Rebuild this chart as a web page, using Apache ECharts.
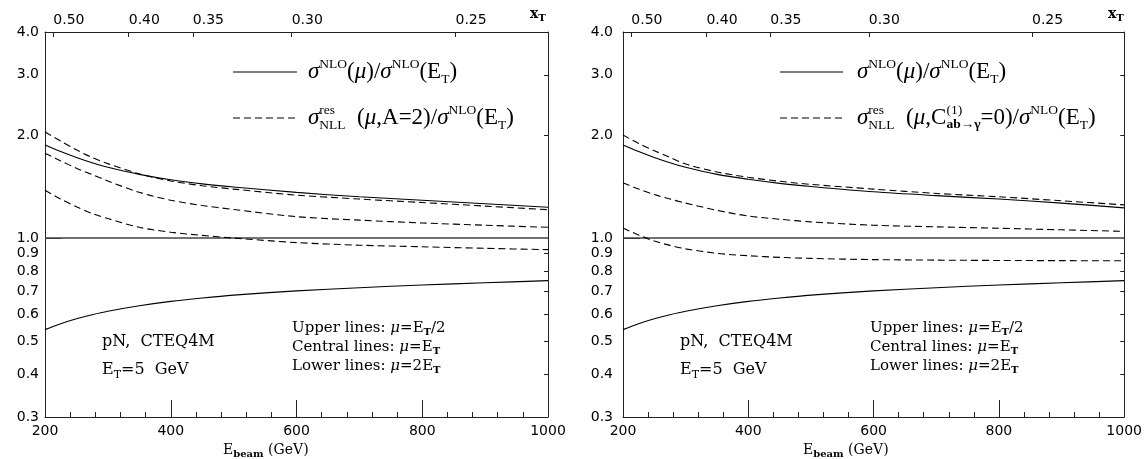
<!DOCTYPE html>
<html><head><meta charset="utf-8">
<script src="https://cdn.jsdelivr.net/npm/echarts@6/dist/echarts.min.js"></script>
<style>html,body{margin:0;padding:0;background:#fff}#c{width:1145px;height:459px}</style>
</head><body><div id="c"></div>
<script>
// ---------------- data ----------------
const energies = [200,225,250,275,300,350,400,450,500,600,700,800,900,1000];

// left panel (A=2)
const L_nloUpper   = [1.87,1.79,1.72,1.66,1.61,1.535,1.48,1.44,1.41,1.36,1.32,1.29,1.26,1.23];
const L_nloCentral = [1,1,1,1,1,1,1,1,1,1,1,1,1,1];
const L_nloLower   = [0.540,0.562,0.581,0.597,0.611,0.634,0.653,0.668,0.681,0.701,0.716,0.729,0.740,0.751];
const L_resUpper   = [2.04,1.92,1.81,1.72,1.65,1.54,1.468,1.422,1.39,1.335,1.30,1.27,1.24,1.21];
const L_resCentral = [1.77,1.68,1.60,1.532,1.468,1.36,1.29,1.245,1.212,1.155,1.128,1.107,1.09,1.075];
const L_resLower   = [1.38,1.30,1.235,1.18,1.14,1.075,1.04,1.018,1.0,0.97,0.953,0.943,0.933,0.925];

// right panel (C=0)
const R_nloUpper   = [1.87,1.79,1.72,1.66,1.61,1.535,1.485,1.445,1.415,1.365,1.33,1.30,1.265,1.225];
const R_nloCentral = [1,1,1,1,1,1,1,1,1,1,1,1,1,1];
const R_nloLower   = [0.540,0.562,0.581,0.597,0.611,0.634,0.653,0.668,0.681,0.701,0.716,0.729,0.740,0.751];
const R_resUpper   = [2.0,1.89,1.80,1.72,1.645,1.56,1.505,1.465,1.435,1.39,1.35,1.32,1.285,1.25];
const R_resCentral = [1.45,1.39,1.34,1.30,1.265,1.205,1.16,1.135,1.115,1.09,1.078,1.068,1.057,1.046];
const R_resLower   = [1.07,1.02,0.98,0.952,0.93,0.902,0.888,0.878,0.872,0.865,0.862,0.860,0.859,0.858];

// tick labels
const yTickValues = [0.3,0.4,0.5,0.6,0.7,0.8,0.9,1.0,2.0,3.0,4.0];
const yMinorTicks = [0.4,0.5,0.6,0.7,0.8,0.9,2.0,3.0];
const xTTicks = [0.50,0.40,0.35,0.30,0.25];
const xTLabels = ['0.50','0.40','0.35','0.30','0.25'];
const ET = 5, mProton = 0.938;

// ---------------- helpers ----------------
const lg = v => Math.log10(v);
// x_T = 2 E_T / sqrt(2 m_p E_beam)  ->  E_beam
const xTPos = xTTicks.map(x => Math.pow(2*ET/x, 2) / (2*mProton));
function xTLabel(v){
  for (let i=0;i<xTPos.length;i++) if (Math.abs(xTPos[i]-v) < 1e-6) return xTLabels[i];
  return '';
}
const pairs = arr => energies.map((e,i)=>[e, lg(arr[i])]);

const AX = '#222';
const SANS = 'DejaVu Sans';
const SERIF = 'Liberation Serif';
const SERIF2 = 'DejaVu Serif';
const TF = 14;

function bottomX(g){ return {gridIndex:g,type:'value',min:200,max:1000,interval:200,position:'bottom',
  axisLine:{show:true,onZero:false,lineStyle:{color:AX,width:1}},
  axisTick:{show:true,inside:true,length:17,lineStyle:{color:AX,width:1}},
  minorTick:{show:true,splitNumber:5,length:5,lineStyle:{color:AX,width:1}},
  axisLabel:{formatter:v=>String(v),fontFamily:SANS,fontSize:TF,color:'#000',margin:7},
  splitLine:{show:false},minorSplitLine:{show:false}};}
function topX(g){ return {gridIndex:g,type:'value',min:200,max:1000,position:'top',
  axisLine:{show:true,onZero:false,lineStyle:{color:AX,width:1}},
  axisTick:{show:true,inside:true,length:5,customValues:xTPos,lineStyle:{color:AX,width:1}},
  axisLabel:{customValues:xTPos,formatter:v=>xTLabel(v),align:'left',fontFamily:SANS,fontSize:TF,color:'#000',margin:5},
  splitLine:{show:false}};}
function leftY(g,margin){ return {gridIndex:g,type:'value',min:lg(0.3),max:lg(4),position:'left',
  axisLine:{show:true,onZero:false,lineStyle:{color:AX,width:1}},
  axisTick:{show:true,inside:true,length:17,customValues:[0],lineStyle:{color:AX,width:1}},
  axisLabel:{customValues:yTickValues.map(lg),formatter:v=>Math.pow(10,v).toFixed(1),fontFamily:SANS,fontSize:TF,color:'#000',margin:margin},
  splitLine:{show:false}};}
function rightY(g){ return {gridIndex:g,type:'value',min:lg(0.3),max:lg(4),position:'right',
  axisLine:{show:true,onZero:false,lineStyle:{color:AX,width:1}},
  axisTick:{show:true,inside:true,length:4,customValues:yMinorTicks.map(lg),lineStyle:{color:AX,width:1}},
  axisLabel:{show:false},splitLine:{show:false}};}

function line(g, arr, dashed, color, width){
  return {type:'line',xAxisIndex:2*g,yAxisIndex:2*g,data:pairs(arr),showSymbol:false,symbol:'none',
    smooth:0.3,silent:true,
    lineStyle:{color:color||'#000',width:width||1.1,type:dashed?[7,4]:'solid'}};
}

// text layout helpers
const cv = document.createElement('canvas').getContext('2d');
function meas(s,size,fam,it,b){ cv.font=(it?'italic ':'')+(b?'bold ':'')+size+'px '+fam; return cv.measureText(s).width; }
function txt(x,y,s,size,fam,it,b){ return {type:'text',x:x,y:y,silent:true,z:100,
  style:{text:s,fontSize:size,fontFamily:fam,fontStyle:it?'italic':'normal',fontWeight:b?'bold':'normal',fill:'#000',align:'left',verticalAlign:'middle'}}; }
function mathText(x,y,tokens,o){
  const out=[]; let cx=x;
  for (const t of tokens){
    if (t.stack){
      const a=t.stack[0], b=t.stack[1];
      const wa=meas(a,o.small,o.fam,false,t.ba), wb=meas(b,o.small,o.fam,false,t.bb);
      out.push(txt(cx,y+o.supDy,a,o.small,o.fam,false,t.ba));
      out.push(txt(cx,y+o.subDy,b,o.small,o.fam,false,t.bb));
      cx += Math.max(wa,wb);
    } else {
      const size=(t.sup||t.sub)?o.small:o.size;
      const dy=t.sup?o.supDy:(t.sub?o.subDy:0);
      out.push(txt(cx,y+dy,t.s,size,o.fam,t.it,t.b));
      cx += meas(t.s,size,o.fam,t.it,t.b);
    }
  }
  return out;
}
function hline(x1,x2,y,dashed){ return {type:'line',silent:true,shape:{x1:x1,y1:y,x2:x2,y2:y},
  style:{stroke:'#000',lineWidth:1.1,lineDash:dashed?[7,4]:null}}; }

const LEG = {fam:SERIF,size:23,small:13.5,supDy:-8,subDy:7};
const ANN = {fam:SERIF2,size:16,small:11,supDy:-6,subDy:5};
const ANS = {fam:SERIF2,size:15,small:10,supDy:-5,subDy:4};
const AXN = {fam:SERIF2,size:14,small:10,supDy:-5,subDy:4};

const leg1 = [{s:'σ',it:1},{s:'NLO',sup:1},{s:'('},{s:'μ',it:1},{s:')/'},{s:'σ',it:1},{s:'NLO',sup:1},{s:'(E'},{s:'T',sub:1},{s:')'}];
const leg2L = [{s:'σ',it:1},{stack:['res','NLL']},{s:'  ('},{s:'μ',it:1},{s:',A=2)/'},{s:'σ',it:1},{s:'NLO',sup:1},{s:'(E'},{s:'T',sub:1},{s:')'}];
const leg2R = [{s:'σ',it:1},{stack:['res','NLL']},{s:'  ('},{s:'μ',it:1},{s:',C'},{stack:['(1)','ab→γ'],bb:1},{s:'=0)/'},{s:'σ',it:1},{s:'NLO',sup:1},{s:'(E'},{s:'T',sub:1},{s:')'}];
const ann1 = [{s:'pN,  CTEQ4M'}];
const ann2 = [{s:'E'},{s:'T',sub:1},{s:'=5  GeV'}];
const up = [{s:'Upper lines: '},{s:'μ',it:1},{s:'=E'},{s:'T',sub:1,b:1},{s:'/2'}];
const ce = [{s:'Central lines: '},{s:'μ',it:1},{s:'=E'},{s:'T',sub:1,b:1}];
const lo = [{s:'Lower lines: '},{s:'μ',it:1},{s:'=2E'},{s:'T',sub:1,b:1}];
const xname = [{s:'E'},{s:'beam',sub:1,b:1},{s:' (GeV)'}];
const xtname = [{s:'x',b:1},{s:'T',sub:1,b:1}];

function panelGraphics(legX, sampleX1, sampleX2, leg2, annX, linesX, xnameX, xtX){
  let g = [];
  g.push(hline(sampleX1,sampleX2,72,false));
  g.push(hline(sampleX1,sampleX2,118,true));
  g = g.concat(mathText(legX,72,leg1,LEG));
  g = g.concat(mathText(legX,118,leg2,LEG));
  g = g.concat(mathText(annX,342,ann1,ANN));
  g = g.concat(mathText(annX,370,ann2,ANN));
  g = g.concat(mathText(linesX,328,up,ANS));
  g = g.concat(mathText(linesX,347,ce,ANS));
  g = g.concat(mathText(linesX,366,lo,ANS));
  g = g.concat(mathText(xnameX,450,xname,AXN));
  g = g.concat(mathText(xtX,14,xtname,AXN));
  return g;
}

const graphics = [].concat(
  panelGraphics(308, 233, 297, leg2L, 102, 292, 223, 530),
  panelGraphics(857, 780, 843, leg2R, 680, 870, 803, 1108)
);

const option = {
  animation:false,
  backgroundColor:'#fff',
  grid:[{left:45,top:32,width:503,height:385},{left:623,top:32,width:504,height:385}],
  xAxis:[bottomX(0),topX(0),bottomX(1),topX(1)],
  yAxis:[leftY(0,6),rightY(0),leftY(1,10),rightY(1)],
  series:[
    line(0,L_nloCentral,false,'#444',1.4),
    line(0,L_nloUpper,false), line(0,L_nloLower,false),
    line(0,L_resUpper,true), line(0,L_resCentral,true), line(0,L_resLower,true),
    line(1,R_nloCentral,false,'#444',1.4),
    line(1,R_nloUpper,false), line(1,R_nloLower,false),
    line(1,R_resUpper,true), line(1,R_resCentral,true), line(1,R_resLower,true)
  ],
  graphic:graphics
};
const chart = echarts.init(document.getElementById('c'),null,{renderer:'canvas'});
chart.setOption(option);
</script></body></html>
